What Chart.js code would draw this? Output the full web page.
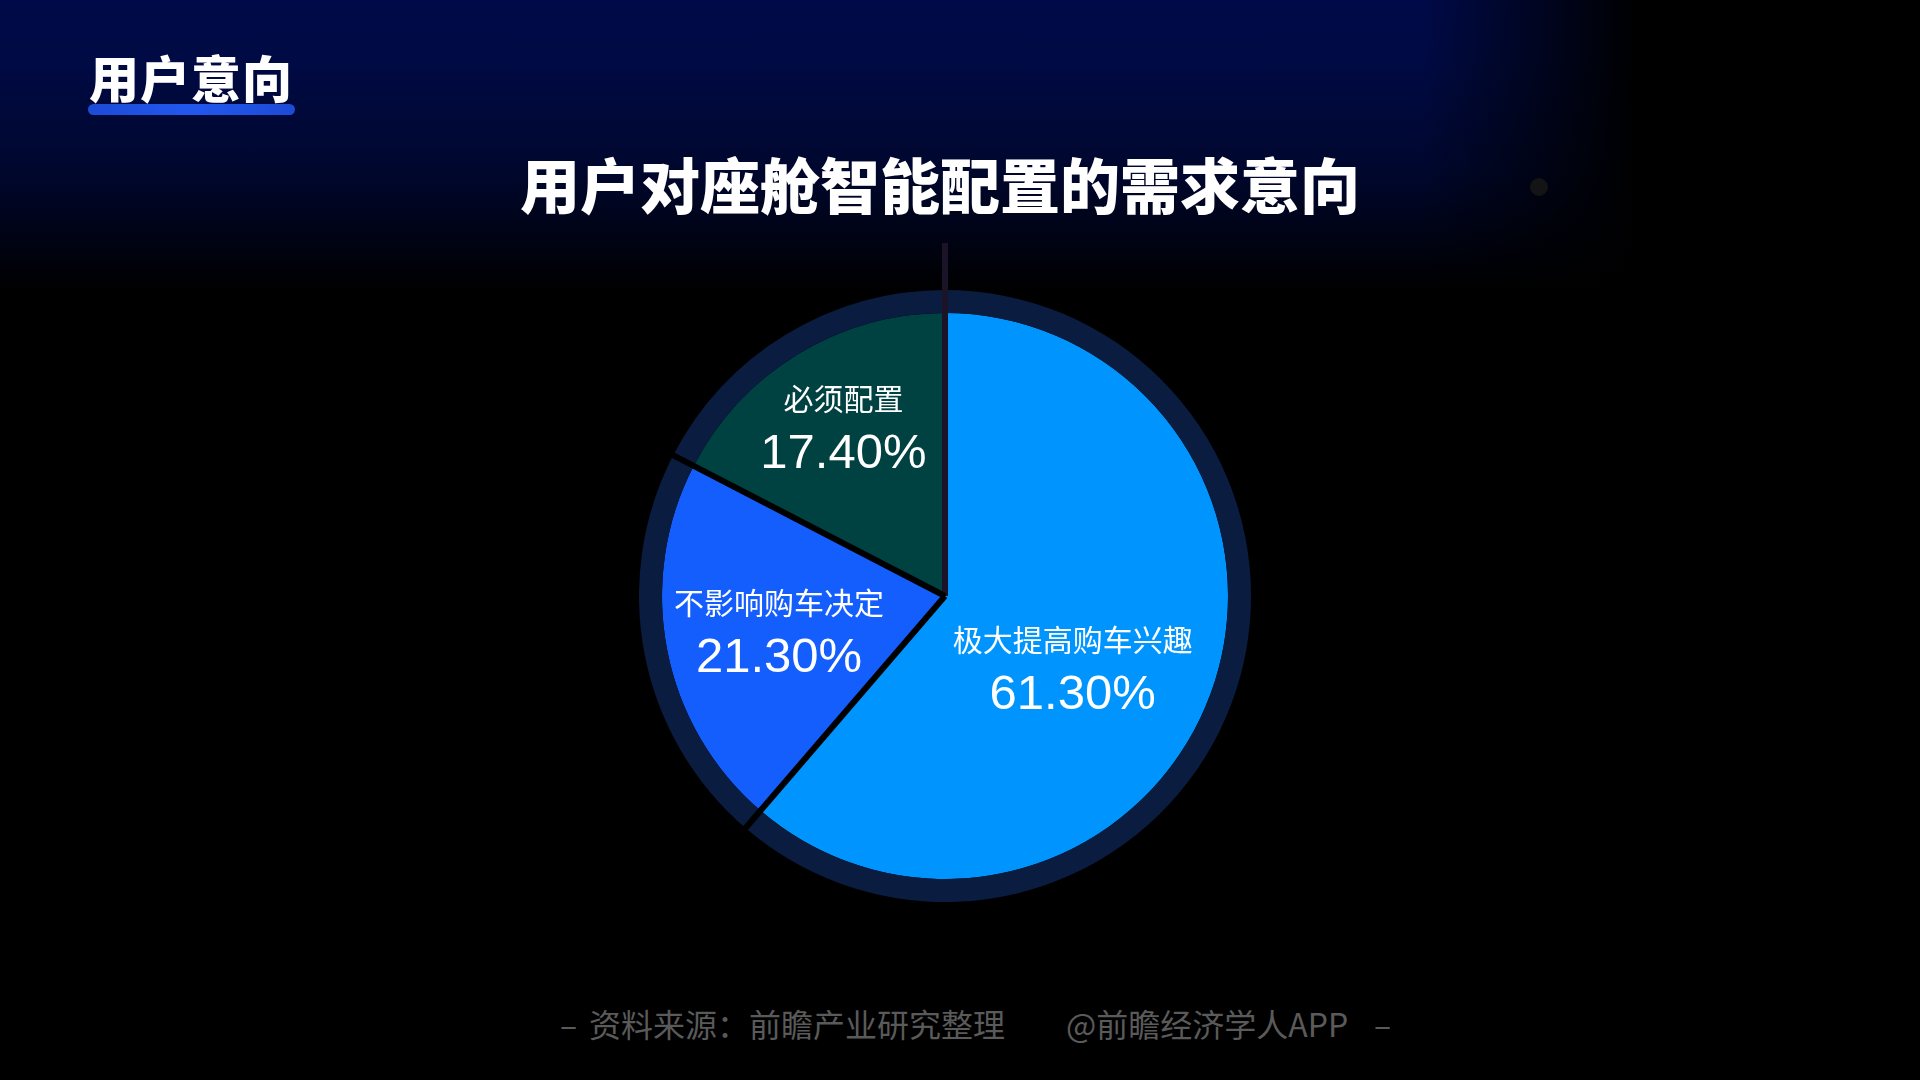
<!DOCTYPE html>
<html lang="zh-CN">
<head>
<meta charset="utf-8">
<script src="https://cdn.jsdelivr.net/npm/chart.js@4.4.1/dist/chart.umd.min.js"></script>
<style>
  html, body { margin: 0; padding: 0; }
  body {
    width: 1920px; height: 1080px; overflow: hidden; position: relative;
    background-color: #000;
    background-image:
      linear-gradient(to right, rgba(0,0,0,0) 1420px, rgba(0,0,0,1) 1640px),
      linear-gradient(to bottom, #000a48 0px, #000a44 60px, #00072e 170px, #000000 290px);
    font-family: "Noto Sans CJK SC", "Noto Sans", sans-serif;
  }
  #tag {
    position: absolute; left: 89px; top: 46px; margin: 0;
    font-size: 50px; font-weight: 900; color: #fff; line-height: 60px; z-index: 2;
    letter-spacing: 1px;
  }
  #tagbar {
    position: absolute; left: 88px; top: 104px; width: 207px; height: 11px;
    border-radius: 6px; background: linear-gradient(to right, #1c4bd6, #2257ee, #1c4bd6); z-index: 1;
  }
  #title {
    position: absolute; left: 440px; width: 1000px; top: 143px; margin: 0; text-align: center;
    font-size: 60px; font-weight: 900; color: #fff; line-height: 80px;
  }
  #dot {
    position: absolute; left: 1530px; top: 178px; width: 18px; height: 18px; border-radius: 50%;
    background: #141414;
  }
  #chartBox { position: absolute; left: 639px; top: 240px; width: 612px; height: 662px; }
  #footer {
    position: absolute; top: 1001px; left: 0; width: 1920px; height: 44px;
    color: #5a5a5a; font-size: 32px; line-height: 44px;
  }
  #footer span { position: absolute; top: 0; white-space: nowrap; }
</style>
</head>
<body>
<div id="tagbar"></div>
<h2 id="tag">用户意向</h2>
<h1 id="title">用户对座舱智能配置的需求意向</h1>
<div id="dot"></div>
<div id="chartBox"><canvas id="c"></canvas></div>
<div id="footer">
  <span style="left:560px">–</span>
  <span style="left:589px">资料来源：前瞻产业研究整理</span>
  <span style="left:1066px">@前瞻经济学人APP</span>
  <span style="left:1374px">–</span>
</div>
<script>
// ---- data ----
const categories = ["极大提高购车兴趣", "不影响购车决定", "必须配置"];
const shares = [61.3, 21.3, 17.4];
const sliceColors = ["#0095fe", "#145efe", "#004141"];
const ringColor = "#0a1c40";

const separatorPlugin = {
  id: "separators",
  afterDatasetsDraw(chart) {
    const ctx = chart.ctx;
    const ring = chart.getDatasetMeta(0).data;
    const pie = chart.getDatasetMeta(1).data;
    if (!pie.length) return;
    const cx = pie[0].x, cy = pie[0].y;
    const R = ring[0].outerRadius;
    ctx.save();
    ctx.lineCap = "butt";
    pie.forEach((arc, i) => {
      const a = arc.startAngle;
      if (i === 0) {
        ctx.strokeStyle = "#1b1429";
        ctx.lineWidth = 6;
        ctx.beginPath();
        ctx.moveTo(cx, cy);
        ctx.lineTo(cx, cy - R - 47);
        ctx.stroke();
      } else {
        ctx.strokeStyle = "#000";
        ctx.lineWidth = 6;
        ctx.beginPath();
        ctx.moveTo(cx, cy);
        ctx.lineTo(cx + Math.cos(a) * (R + 2), cy + Math.sin(a) * (R + 2));
        ctx.stroke();
      }
    });
    // labels
    const nudges = [[-5, 21], [-27, 7], [-28, -50]];
    ctx.fillStyle = "#fff";
    ctx.textAlign = "center";
    ctx.textBaseline = "middle";
    pie.forEach((arc, i) => {
      const p = arc.getCenterPoint();
      const x = p.x + nudges[i][0], y = p.y + nudges[i][1];
      ctx.font = '30px "Noto Sans CJK SC", sans-serif';
      ctx.fillText(categories[i], x, y - 27);
      ctx.font = '49px "Liberation Sans", Arial, sans-serif';
      ctx.fillText(shares[i].toFixed(2) + "%", x, y + 29);
    });
    ctx.restore();
  }
};

new Chart(document.getElementById("c"), {
  type: "pie",
  data: {
    labels: categories,
    datasets: [
      { data: shares, backgroundColor: shares.map(() => ringColor), borderWidth: 0, weight: 23, hoverOffset: 0, offset: 0 },
      { data: shares, backgroundColor: sliceColors, borderWidth: 0, weight: 283, hoverOffset: 0, offset: 0 }
    ]
  },
  options: {
    responsive: true,
    maintainAspectRatio: false,
    animation: false,
    events: [],
    layout: { padding: { top: 50, left: 0, right: 0, bottom: 0 } },
    plugins: { legend: { display: false }, tooltip: { enabled: false } }
  },
  plugins: [separatorPlugin]
});
</script>
</body>
</html>
